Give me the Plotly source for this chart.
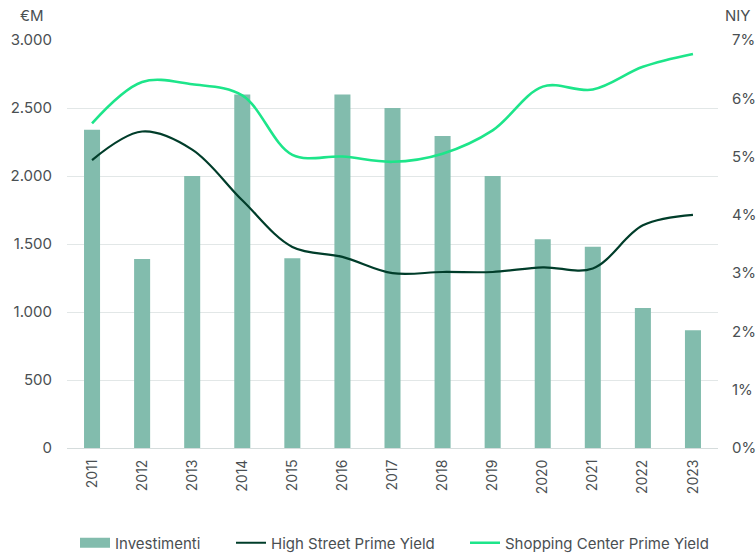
import plotly.graph_objects as go

years = ["2011", "2012", "2013", "2014", "2015", "2016", "2017", "2018", "2019", "2020", "2021", "2022", "2023"]
investimenti = [2340, 1390, 2000, 2600, 1395, 2600, 2500, 2295, 2000, 1535, 1480, 1030, 865]
high_street = [4.94, 5.43, 5.12, 4.25, 3.45, 3.28, 3.0, 3.02, 3.02, 3.1, 3.08, 3.82, 4.0]
shopping_center = [5.57, 6.28, 6.24, 6.05, 5.03, 5.0, 4.91, 5.05, 5.45, 6.2, 6.15, 6.54, 6.76]

left_ticks = [0, 500, 1000, 1500, 2000, 2500, 3000]
left_labels = ["0", "500", "1.000", "1.500", "2.000", "2.500", "3.000"]
right_ticks = [0, 1, 2, 3, 4, 5, 6, 7]
right_labels = ["0%", "1%", "2%", "3%", "4%", "5%", "6%", "7%"]

FONT = "Inter, Lato, sans-serif"
TXT = "#4a4f52"
BAR = "#82bcad"
HS = "#003d2a"
SC = "#1de58a"

fig = go.Figure()
fig.add_trace(go.Bar(x=years, y=investimenti, name="Investimenti", showlegend=False,
                     marker=dict(color=BAR, line=dict(width=0))))
# legend proxy for bar (wide rectangle swatch)
fig.add_trace(go.Scatter(x=[None], y=[None], name="Investimenti", mode="lines", legend="legend",
                         line=dict(color=BAR, width=11)))
fig.add_trace(go.Scatter(x=years, y=high_street, name="High Street Prime Yield", yaxis="y2", legend="legend2",
                         mode="lines", line=dict(color=HS, width=2.2, shape="spline", smoothing=1)))
fig.add_trace(go.Scatter(x=years, y=shopping_center, name="Shopping Center Prime Yield", yaxis="y2",
                         legend="legend3",
                         mode="lines", line=dict(color=SC, width=2.6, shape="spline", smoothing=1)))

L, R, T, B = 67, 38, 40, 105
W, H = 756, 553
pw = W - L - R
ph = H - T - B


def leg(px):
    return dict(orientation="h", x=(px - L) / pw, xanchor="left", y=(H - B - 543) / ph, yanchor="middle",
                font=dict(size=15, color=TXT), bgcolor="rgba(0,0,0,0)")


fig.update_layout(
    width=W, height=H,
    margin=dict(l=L, r=R, t=T, b=B, autoexpand=False),
    plot_bgcolor="white", paper_bgcolor="white",
    font=dict(family=FONT, size=14, color=TXT),
    bargap=0.68,
    showlegend=True,
    legend=leg(75), legend2=leg(231), legend3=leg(465),
    xaxis=dict(type="category", tickangle=-90, showgrid=False, showline=True, automargin=False,
               linecolor="#d5dcdc", linewidth=1, ticks="", tickfont=dict(size=14, color=TXT),
               ticklabelstandoff=5, range=[-0.5, 12.5]),
    yaxis=dict(range=[0, 3000], tickvals=left_ticks, ticktext=left_labels, showgrid=True, automargin=False,
               gridcolor="#e2e7e7", gridwidth=1, zeroline=False, ticks="", ticklabelstandoff=14,
               tickfont=dict(size=15, color=TXT)),
    yaxis2=dict(range=[0, 7], tickvals=right_ticks, ticktext=right_labels, overlaying="y", automargin=False,
                side="right", showgrid=False, zeroline=False, ticks="", ticklabelstandoff=13,
                tickfont=dict(size=15, color=TXT)),
    annotations=[
        dict(text="€M", x=(32 - L) / pw, y=(H - B - 16) / ph, xref="paper", yref="paper", showarrow=False,
             xanchor="center", yanchor="middle", font=dict(size=15, color=TXT)),
        dict(text="NIY", x=(738 - L) / pw, y=(H - B - 16) / ph, xref="paper", yref="paper", showarrow=False,
             xanchor="center", yanchor="middle", font=dict(size=15, color=TXT)),
    ],
)

fig.write_html("out.html", config={"displayModeBar": False},
               post_script="document.body.style.margin='0';document.body.style.overflow='hidden';")
